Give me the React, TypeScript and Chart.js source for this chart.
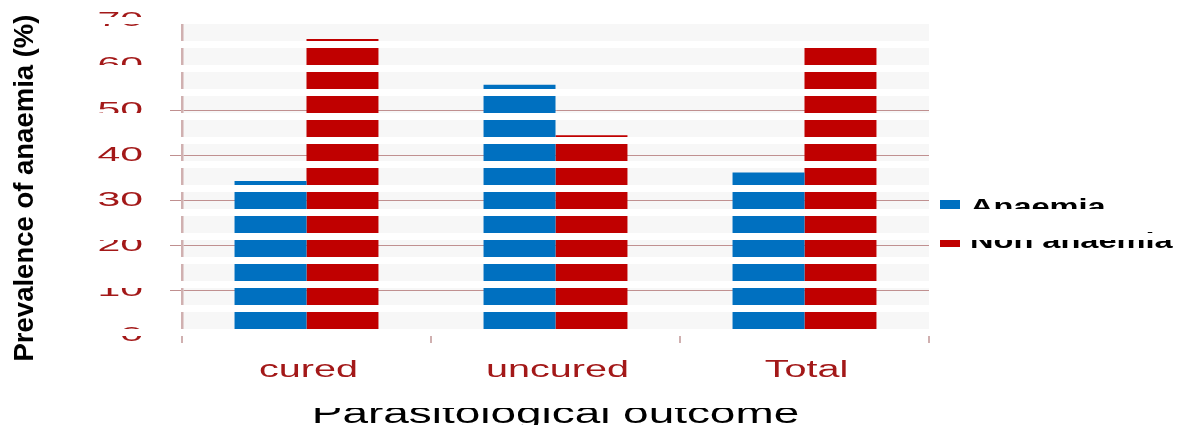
import React, { useEffect, useRef } from "react";
import { Chart, registerables } from "chart.js";

Chart.register(...registerables);

// ---- data ----
const categories = ["cured", "uncured", "Total"];
const anaemiaValues = [34.2, 55.6, 36.1];
const nonAnaemiaValues = [65.8, 44.4, 63.9];
const seriesNames = ["Anaemia", "Non anaemia"];
const yMin = 0;
const yMax = 70;
const yStep = 10;
const xTitle = "Parasitological outcome";
const yTitle = "Prevalence of anaemia (%)";

// ---- styles ----
const BLUE = "#0070c0";
const RED = "#c00000";
const TICK_RED = "#a31818";
const GRID = "#c09090";
const AXIS = "#d0b0b0";
const PLOT_BG = "#f7f7f7";
const FONT = "'Liberation Sans', Arial, sans-serif";

function stretched(
  ctx: CanvasRenderingContext2D,
  text: string,
  x: number,
  y: number,
  sx: number,
  align: CanvasTextAlign,
  baseline: CanvasTextBaseline
) {
  ctx.save();
  ctx.translate(x, y);
  ctx.scale(sx, 1);
  ctx.textAlign = align;
  ctx.textBaseline = baseline;
  ctx.fillText(text, 0, 0);
  ctx.restore();
}

const decorPlugin = {
  id: "decor",
  beforeDraw(chart: any) {
    const { ctx, chartArea: a } = chart;
    ctx.save();
    ctx.fillStyle = PLOT_BG;
    ctx.fillRect(a.left, a.top, a.right - a.left, a.bottom - a.top);
    ctx.restore();
  },
  afterDatasetsDraw(chart: any) {
    const { ctx } = chart;
    const ys = chart.scales.y;
    const xs = chart.scales.x;
    // y tick labels
    ctx.save();
    ctx.fillStyle = TICK_RED;
    ctx.font = `21px ${FONT}`;
    ys.ticks.forEach((t: any) => {
      const py = ys.getPixelForValue(t.value);
      stretched(ctx, String(t.label ?? t.value), ys.left - 27, py, 1.95, "right", "middle");
    });
    // x category labels
    ctx.font = `23px ${FONT}`;
    (chart.data.labels as string[]).forEach((lab, i) => {
      const px = xs.getPixelForValue(i);
      stretched(ctx, lab, px + 2, xs.bottom + 34, 1.72, "center", "alphabetic");
    });
    // x title
    ctx.fillStyle = "#000";
    ctx.font = `30px ${FONT}`;
    stretched(ctx, xTitle, (chart.chartArea.left + chart.chartArea.right) / 2, xs.bottom + 80, 1.53, "center", "alphabetic");
    // legend
    ctx.font = `bold 22px ${FONT}`;
    chart.data.datasets.forEach((ds: any, i: number) => {
      const cy = 206 + i * 34;
      ctx.fillStyle = ds.backgroundColor;
      ctx.fillRect(chart.chartArea.right + 11, cy - 6, 20, 13);
      ctx.fillStyle = "#000";
      stretched(ctx, ds.label, chart.chartArea.right + 41, cy + 8, 1.48, "left", "alphabetic");
    });
    ctx.restore();
  },
  afterDraw(chart: any) {
    const { ctx, width, height } = chart;
    // white horizontal stripes across the figure
    ctx.save();
    ctx.fillStyle = "#ffffff";
    for (let y = 17; y < height; y += 24) {
      ctx.fillRect(60, y, width - 60, 7);
    }
    // y title (not striped)
    ctx.fillStyle = "#000";
    ctx.font = `bold 27.5px ${FONT}`;
    ctx.translate(33, 188);
    ctx.rotate(-Math.PI / 2);
    ctx.textAlign = "center";
    ctx.textBaseline = "alphabetic";
    ctx.fillText(yTitle, 0, 0);
    ctx.restore();
  },
};

export default function App() {
  const ref = useRef<HTMLCanvasElement | null>(null);

  useEffect(() => {
    document.body.style.margin = "0";
    const canvas = ref.current;
    if (!canvas) return;
    const chart = new Chart(canvas, {
      type: "bar",
      data: {
        labels: categories,
        datasets: [
          {
            label: seriesNames[0],
            data: anaemiaValues,
            backgroundColor: BLUE,
            borderWidth: 0,
            categoryPercentage: 0.578,
            barPercentage: 1,
          },
          {
            label: seriesNames[1],
            data: nonAnaemiaValues,
            backgroundColor: RED,
            borderWidth: 0,
            categoryPercentage: 0.578,
            barPercentage: 1,
          },
        ],
      },
      options: {
        responsive: false,
        animation: false,
        devicePixelRatio: 1,
        layout: { padding: { left: 170, right: 249, top: 20, bottom: 84 } },
        plugins: {
          legend: { display: false },
          tooltip: { enabled: false },
        },
        scales: {
          x: {
            ticks: { display: false },
            grid: {
              drawOnChartArea: false,
              drawTicks: true,
              tickLength: 8,
              color: AXIS,
              lineWidth: 2,
            },
            border: { display: false },
          },
          y: {
            min: yMin,
            max: yMax,
            ticks: { display: false, stepSize: yStep },
            grid: {
              color: GRID,
              lineWidth: 1,
              drawTicks: true,
              tickLength: 12,
            },
            border: { display: true, color: AXIS, width: 2.5 },
          },
        },
      },
      plugins: [decorPlugin],
    });
    return () => chart.destroy();
  }, []);

  return (
    <div style={{ width: 1178, height: 427 }}>
      <canvas ref={ref} width={1178} height={427} style={{ display: "block" }} />
    </div>
  );
}
